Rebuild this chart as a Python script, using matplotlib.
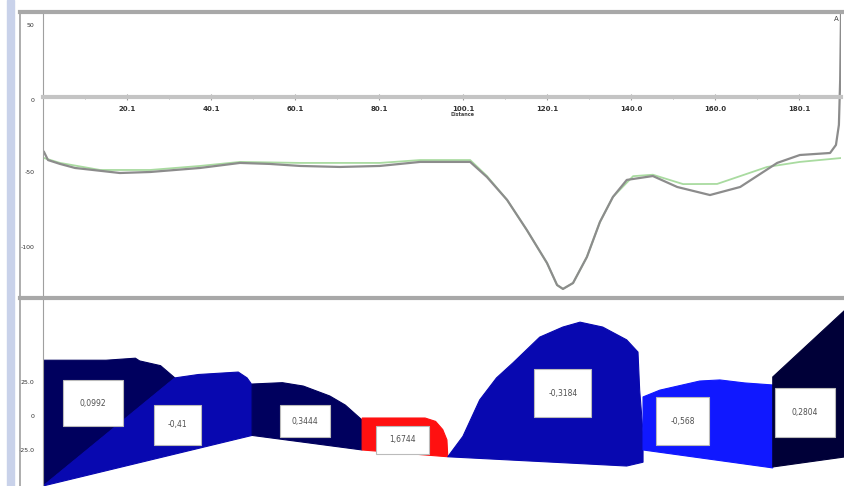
import matplotlib.pyplot as plt
from matplotlib.patches import Polygon, Rectangle
from matplotlib.lines import Line2D

# верхняя панель: профиль (серый) и сглаженный профиль (зелёный)
gray_x = [0.24, 1.19, 4.05, 7.62, 18.3, 25.5, 37.4, 46.9, 54.0, 61.2, 70.7, 80.2, 89.8, 101.7,
          105.7, 110.5, 115.2, 120.0, 122.4, 123.8, 126.2, 129.5, 132.6, 135.7, 139.0, 145.2,
          151.0, 158.8, 166.0, 174.8, 180.2, 187.4, 188.8, 189.5, 189.8, 190.0]
gray_y = [-38.2, -43.8, -46.5, -49.3, -52.8, -52.1, -49.3, -45.8, -46.5, -47.9, -48.6, -47.9,
          -45.1, -45.1, -55.6, -71.5, -92.4, -115.3, -130.6, -133.3, -129.2, -111.1, -86.8,
          -69.4, -57.6, -54.9, -62.5, -68.1, -62.5, -45.8, -40.3, -38.9, -33.3, -19.4, 11.8, 56.9]
green_x = [0.24, 4.05, 13.6, 25.5, 37.4, 46.9, 61.2, 80.2, 89.8, 101.7, 105.7, 110.5, 115.2,
           120.0, 122.4, 123.8, 126.2, 129.5, 132.6, 135.7, 140.5, 145.2, 152.4, 160.5, 172.4,
           180.2, 190.0]
green_y = [-42.4, -45.8, -50.7, -50.7, -47.9, -45.1, -45.8, -45.8, -43.8, -43.8, -54.9, -71.5,
           -92.4, -115.3, -130.6, -133.3, -129.2, -111.1, -86.8, -69.4, -55.0, -54.0, -60.5,
           -60.4, -48.6, -45.1, -42.4]
top_xticks = [20, 40, 60, 80, 100, 120, 140, 160, 180]
top_xlabels = ['20.1', '40.1', '60.1', '80.1', '100.1', '120.1', '140.0', '160.0', '180.1']
top_yticks = [50, -2, -52, -104]
top_ylabels = ['50', '0', '-50', '-100']

# нижняя панель: сегменты и их значения
seg_shapes = [
    [(0, 41), (15, 41), (22, 42.5), (23, 40.5), (28, 37), (31.4, 28), (0, -51.5)],
    [(31.4, 28), (37, 30.5), (46.5, 32.3), (48.6, 28), (49.8, 22.8), (49.8, -14.3), (0, -51.5)],
    [(49.8, 23.5), (57, 24.5), (62, 22), (68.3, 14.7), (72, 8), (76, -3), (76, -25), (49.8, -14.3)],
    [(76, -1.5), (91, -1.5), (93.5, -4), (95.2, -10), (96.2, -17.6), (96.4, -30), (76, -25)],
    [(96.4, -30), (100, -15), (104, 11.8), (108, 28), (111.9, 39), (118.3, 58), (123.8, 65.4),
     (127.9, 69), (133.3, 65.4), (139, 56), (141.7, 47), (142.1, 19), (142.9, -12),
     (142.9, -34), (139, -36.8)],
    [(142.9, 14), (146.9, 19), (156.4, 25.7), (161.2, 26.5), (167.1, 24.3), (173.8, 22.8),
     (173.8, -38.2), (142.9, -25)],
    [(173.8, 28.7), (191, 77.9), (191, -30.1), (173.8, -37.5)],
]
seg_colors = ['#00005e', '#0808b0', '#00005e', '#ff1010', '#0808b0', '#1018ff', '#000038']
seg_labels = ['0,0992', '-0,41', '0,3444', '1,6744', '-0,3184', '-0,568', '0,2804']
# подписи: центр, ширина, высота (в единицах данных)
label_pos = [(11.9, 9.5), (32.1, -6.6), (62.4, -3.7), (85.7, -17.6), (123.8, 16.9),
             (152.4, -3.7), (181.4, 2.9)]
label_size = [(14.3, 34), (11.2, 29), (11.9, 24), (12.6, 21), (13.6, 35), (12.6, 35), (14.3, 36)]
low_yticks = [25, 0, -25]
low_ylabels = ['25.0', '0', '-25.0']

fig = plt.figure(figsize=(8.45, 4.86), dpi=100)
W, H = 845, 486

# фон слева: голубая полоса и рамки
fig.add_artist(Rectangle((7 / W, 0), 7 / W, 1, color='#c9d2ea', transform=fig.transFigure))
fig.add_artist(Line2D([20 / W, 20 / W], [0, 1 - 12 / H], color='#a0a0a0', lw=1.2))
fig.add_artist(Line2D([20 / W, 1], [1 - 12 / H, 1 - 12 / H], color='#a8a8a8', lw=3))
fig.add_artist(Line2D([20 / W, 1], [1 - 298 / H, 1 - 298 / H], color='#a8a8a8', lw=3))

ax = fig.add_axes([43 / W, 1 - 297 / H, (841 - 43) / W, (297 - 12) / H])
ax.plot(green_x, green_y, color='#a9dba0', lw=1.3)
ax.plot(gray_x, gray_y, color='#8c8c8c', lw=1.6)
ax.set_xlim(0, 190)
ax.set_ylim(-138.9, 59)
for s in ['top', 'right']:
    ax.spines[s].set_visible(False)
ax.spines['left'].set_color('#a0a0a0')
ax.spines['bottom'].set_position(('data', 0))
ax.spines['bottom'].set_color('#c4c4c4')
ax.spines['bottom'].set_linewidth(3)
ax.set_xticks(top_xticks, top_xlabels)
ax.set_xticks([10, 30, 50, 70, 90, 110, 130, 150, 170], minor=True)
ax.tick_params(axis='x', which='both', direction='inout', length=5, color='#999999',
               labelsize=5, labelcolor='#333333', pad=4)
ax.tick_params(axis='x', which='minor', length=3)
for lab in ax.get_xticklabels():
    lab.set_fontweight('bold')
ax.set_yticks(top_yticks, top_ylabels)
ax.tick_params(axis='y', length=0, labelsize=4.5, labelcolor='#333333', pad=6)
ax.text(100, -13, 'Distance', fontsize=3.5, color='#404040', ha='center', fontweight='bold')
ax.text(189, 53, 'A', fontsize=5, color='#404040', ha='center', clip_on=False)

ax2 = fig.add_axes([43 / W, 0, (845 - 43) / W, (486 - 300) / H])
for pts, c in zip(seg_shapes, seg_colors):
    ax2.add_patch(Polygon(pts, closed=True, facecolor=c, edgecolor=c, lw=0.8))
for (cx, cy), (w, h), t in zip(label_pos, label_size, seg_labels):
    ax2.add_patch(Rectangle((cx - w / 2, cy - h / 2), w, h, facecolor='white',
                            edgecolor='#bbbbbb', lw=0.8, zorder=3))
    ax2.text(cx, cy, t, fontsize=5.5, color='#505050', ha='center', va='center', zorder=4)
ax2.set_xlim(0, 191)
ax2.set_ylim(-51.5, 85.3)
for s in ['top', 'right', 'bottom']:
    ax2.spines[s].set_visible(False)
ax2.spines['left'].set_color('#a0a0a0')
ax2.set_xticks([])
ax2.set_yticks(low_yticks, low_ylabels)
ax2.tick_params(axis='y', length=0, labelsize=4.5, labelcolor='#333333', pad=6)

fig.savefig('out.png', dpi=100)
